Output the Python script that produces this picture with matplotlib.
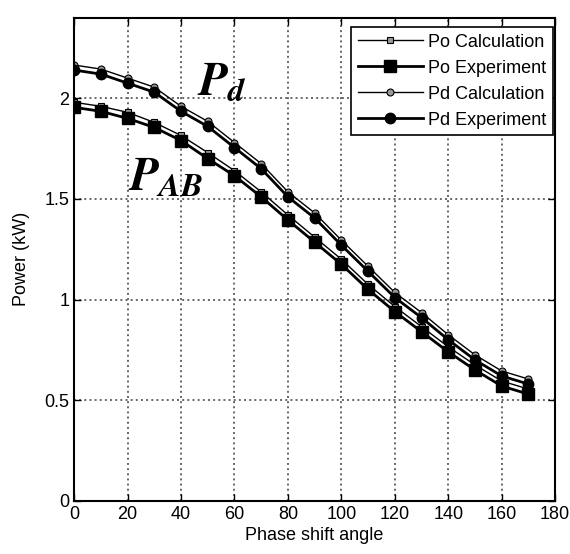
import matplotlib
matplotlib.use("Agg")
import matplotlib.pyplot as plt

plt.rcParams["font.family"] = ["Liberation Sans", "DejaVu Sans"]
plt.rcParams["mathtext.fontset"] = "stix"

# phase shift angle (deg)
angle = [0, 10, 20, 30, 40, 50, 60, 70, 80, 90, 100, 110, 120, 130, 140, 150, 160, 170]

# power (kW)
po_calc = [1.98, 1.96, 1.93, 1.88, 1.815, 1.73, 1.64, 1.535, 1.42, 1.31, 1.20, 1.075,
           0.965, 0.865, 0.765, 0.675, 0.595, 0.555]
po_exp = [1.955, 1.935, 1.90, 1.855, 1.79, 1.70, 1.615, 1.51, 1.395, 1.285, 1.175, 1.05,
          0.94, 0.84, 0.74, 0.65, 0.57, 0.53]
pd_calc = [2.165, 2.145, 2.10, 2.055, 1.96, 1.885, 1.78, 1.675, 1.535, 1.43, 1.295, 1.165,
           1.035, 0.935, 0.825, 0.725, 0.645, 0.605]
pd_exp = [2.14, 2.12, 2.075, 2.03, 1.935, 1.86, 1.755, 1.65, 1.51, 1.405, 1.27, 1.14,
          1.01, 0.91, 0.80, 0.70, 0.62, 0.58]

x_ticks = [0, 20, 40, 60, 80, 100, 120, 140, 160, 180]
y_ticks = [0, 0.5, 1, 1.5, 2]
y_tick_labels = ["0", "0.5", "1", "1.5", "2"]


def make_figure():
    fig = plt.figure(figsize=(5.7, 5.54), dpi=100)
    ax = fig.add_axes([0.130, 0.096, 0.844, 0.872])
    return fig, ax


def add_curves(ax):
    ax.plot(angle, po_calc, color="k", lw=1.0, marker="s", ms=5,
            mfc="0.6", mec="k", mew=0.8, label="Po Calculation")
    ax.plot(angle, po_exp, color="k", lw=2.0, marker="s", ms=9,
            mfc="k", mec="k", label="Po Experiment")
    ax.plot(angle, pd_calc, color="k", lw=1.0, marker="o", ms=5,
            mfc="0.6", mec="k", mew=0.8, label="Pd Calculation")
    ax.plot(angle, pd_exp, color="k", lw=2.0, marker="o", ms=7.5,
            mfc="k", mec="k", label="Pd Experiment")

    # curve labels drawn on the plot
    ax.text(46, 2.02, r"$\mathbfit{P}_{\mathbfit{d}}$", fontsize=34, color="k")
    ax.text(20, 1.54, r"$\mathbfit{P}_{\mathbfit{AB}}$", fontsize=34, color="k")


def setup_axes(ax):
    ax.set_xlim(0, 180)
    ax.set_ylim(0, 2.4)
    ax.set_xticks(x_ticks)
    ax.set_yticks(y_ticks)
    ax.set_yticklabels(y_tick_labels)
    ax.tick_params(axis="both", which="major", direction="in", length=5,
                   width=1.0, labelsize=13, top=True, right=True)
    ax.grid(True, linestyle=":", color="0.4", lw=1.4)
    for side in ax.spines.values():
        side.set_linewidth(1.5)
    ax.set_xlabel("Phase shift angle", fontsize=13, labelpad=3)
    ax.set_ylabel("Power (kW)", fontsize=13, labelpad=10)

    leg = ax.legend(loc="upper right", bbox_to_anchor=(0.995, 0.98), fontsize=13,
                    frameon=True, fancybox=False, edgecolor="k", framealpha=1,
                    labelspacing=0.5, handlelength=3.6, handletextpad=0.3,
                    borderpad=0.35, borderaxespad=0.0)
    leg.get_frame().set_linewidth(1.2)


def entry_point():
    fig, ax = make_figure()
    add_curves(ax)
    setup_axes(ax)
    fig.savefig("out.png", dpi=100)


if __name__ == "__main__":
    entry_point()
